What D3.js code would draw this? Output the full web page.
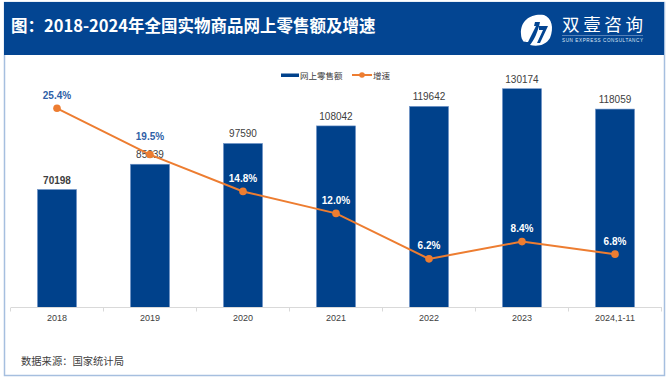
<!DOCTYPE html>
<html><head><meta charset="utf-8">
<script src="https://cdn.jsdelivr.net/npm/d3@7"></script>
<style>
html,body{margin:0;padding:0;background:#fff;}
svg{display:block;font-family:"Liberation Sans",Arial,"Noto Sans CJK SC",sans-serif;}
</style></head>
<body><svg id="c" width="669" height="379"></svg>
<script>
const categories = ["2018","2019","2020","2021","2022","2023","2024,1-11"];
const salesValues = [70198, 85239, 97590, 108042, 119642, 130174, 118059];
const growthValues = [25.4, 19.5, 14.8, 12.0, 6.2, 8.4, 6.8];
const seriesNames = ["网上零售额", "增速"];
const titleText = "图：2018-2024年全国实物商品网上零售额及增速";
const sourceText = "数据来源：国家统计局";

const svg = d3.select("#c");
const W = 669, H = 379;
const blue = "#00418b", orange = "#ed7d31";
const cjk = "'Noto Sans CJK SC','Liberation Sans',sans-serif";

// frame
svg.append("rect").attr("x",4.5).attr("y",2.5).attr("width",660).attr("height",373)
  .attr("fill","#fff").attr("stroke","#a6bfdf").attr("stroke-width",1.5);
// header band
svg.append("rect").attr("x",4).attr("y",2).attr("width",660).attr("height",53).attr("fill","#034592");
svg.append("text").attr("x",11).attr("y",32).attr("fill","#fff")
  .attr("font-family",cjk).attr("font-weight","bold").attr("font-size",16.5).text(titleText);

// logo
const lg = svg.append("g").attr("transform","translate(536,30)");
lg.append("path").attr("d","M-15,4 C-16,-10 -4,-17 8,-15 C16,-12 18,-2 14,8 C10,15 2,17 -6,15 C-2,10 2,2 4,-8 L-1,-8 C-3,2 -7,9 -12,12 C-14,10 -15,7 -15,4 Z")
  .attr("fill","#fff");
lg.append("path").attr("d","M-13,-4 L0,-4 L-8,12 L-11,12 L-5,0 L-13,0 Z").attr("fill","#fff");
lg.append("path").attr("d","M3,-4 L12,-4 L4,13 L1,13 L7,0 L3,0 Z").attr("fill","#034592");
svg.append("text").attr("x",562).attr("y",31).attr("fill","#fff").attr("font-family","'Noto Sans CJK SC',serif")
  .attr("font-size",17.5).attr("textLength",81).text("双壹咨询");
svg.append("line").attr("x1",562).attr("x2",643).attr("y1",35.5).attr("y2",35.5).attr("stroke","#8fa8d0").attr("stroke-width",0.6);
svg.append("text").attr("x",562).attr("y",41.5).attr("fill","#dfe7f3").attr("font-size",4.6)
  .attr("textLength",81).text("SUN EXPRESS CONSULTANCY");

// scales
const x = d3.scaleBand().domain(categories).range([10.5, 661.5]).paddingInner(0.58).paddingOuter(0.29);
const y = d3.scaleLinear().domain([0, 140000]).range([307.5, 72.2]);
const y2 = d3.scaleLinear().domain([0, 30]).range([307.5, 72.2]);

// bars
svg.append("g").selectAll("rect").data(salesValues).join("rect")
  .attr("x",(d,i)=>x(categories[i])).attr("width",x.bandwidth())
  .attr("y",d=>y(d)).attr("height",d=>y(0)-y(d))
  .attr("fill",blue).attr("stroke","#6f93c8").attr("stroke-width",0.6);

// x axis
const ax = svg.append("g").attr("transform","translate(0,307.5)")
  .call(d3.axisBottom(x).tickSize(0).tickPadding(7));
ax.select(".domain").attr("stroke","#d9d9d9").attr("d","M11,0H662");
ax.selectAll("text").attr("fill","#404040").attr("font-size",9);
const bounds = categories.map(c=>x(c)-x.step()*x.paddingInner()/2).concat([661.5]);
ax.selectAll(".bt").data(bounds).join("line").attr("class","bt")
  .attr("x1",d=>d).attr("x2",d=>d).attr("y1",0).attr("y2",4).attr("stroke","#d9d9d9");

// value labels
svg.append("g").selectAll("text").data(salesValues).join("text")
  .attr("x",(d,i)=>x(categories[i])+x.bandwidth()/2).attr("y",d=>y(d)-6)
  .attr("text-anchor","middle").attr("font-size",10).attr("fill","#404040")
  .attr("font-weight",(d,i)=>i===0?"bold":"normal").text(d=>d);

// line
const cx = i => x(categories[i]) + x.bandwidth()/2;
const line = d3.line().x((d,i)=>cx(i)).y(d=>y2(d));
svg.append("path").datum(growthValues).attr("d",line).attr("fill","none")
  .attr("stroke",orange).attr("stroke-width",2);
svg.append("g").selectAll("circle").data(growthValues).join("circle")
  .attr("cx",(d,i)=>cx(i)).attr("cy",d=>y2(d)).attr("r",3.8).attr("fill",orange);
const lblOff = [13, 18, 13, 13, 13, 13, 13];
svg.append("g").selectAll("text").data(growthValues).join("text")
  .attr("x",(d,i)=>cx(i)).attr("y",(d,i)=>y2(d)-lblOff[i]+3.5)
  .attr("text-anchor","middle").attr("font-size",10).attr("font-weight","bold")
  .attr("fill",(d,i)=>i<2?"#2f5fa7":"#fff").text(d=>d.toFixed(1)+"%");

// legend
const leg = svg.append("g").attr("font-family",cjk).attr("font-size",8.5).attr("fill","#404040");
leg.append("rect").attr("x",281).attr("y",73.5).attr("width",18).attr("height",3.5).attr("fill",blue);
leg.append("text").attr("x",300).attr("y",78.5).attr("fill","#404040").text(seriesNames[0]);
leg.append("line").attr("x1",352).attr("x2",372).attr("y1",75).attr("y2",75).attr("stroke",orange).attr("stroke-width",2);
leg.append("circle").attr("cx",362).attr("cy",75).attr("r",2.8).attr("fill",orange);
leg.append("text").attr("x",373).attr("y",78.5).attr("fill","#404040").text(seriesNames[1]);

// source
svg.append("text").attr("x",21).attr("y",365).attr("font-family",cjk).attr("font-size",10.3)
  .attr("fill","#404040").text(sourceText);
</script></body></html>
